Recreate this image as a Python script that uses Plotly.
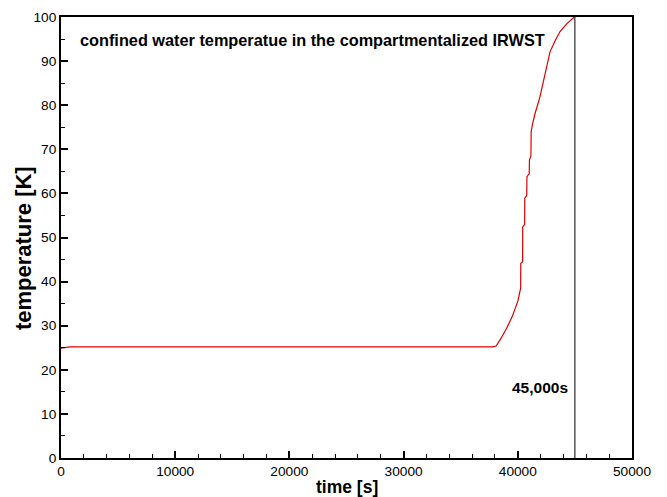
import plotly.graph_objects as go

# Confined water temperature history
time_s = [0, 800, 37800, 38100, 38500, 39000, 39500, 40000, 40250, 40260,
          40420, 40430, 40600, 40610, 40780, 40800, 41000, 41020, 41150, 41170,
          41300, 41500, 41940, 42400, 42820, 43300, 43700, 44300, 44950]
temperature = [24.9, 25.2, 25.2, 25.4, 27.0, 29.3, 32.0, 35.5, 38.5, 44.1,
               44.5, 52.4, 53.0, 58.9, 59.5, 63.8, 64.5, 67.6, 68.5, 74.0,
               75.9, 78.0, 81.9, 87.5, 92.1, 94.8, 96.7, 98.5, 100.0]

marker_time = 45000
marker_label = "45,000s"
title_text = "confined water temperatue in the compartmentalized IRWST"
x_title = "time [s]"
y_title = "temperature [K]"

font = "Liberation Sans, Arial, sans-serif"

fig = go.Figure()
fig.add_trace(go.Scatter(x=time_s, y=temperature, mode="lines",
                         line=dict(color="#dc0000", width=1.2),
                         showlegend=False))
fig.add_trace(go.Scatter(x=[marker_time, marker_time], y=[0, 100], mode="lines",
                         line=dict(color="black", width=1), showlegend=False))

fig.add_annotation(x=0.029, y=0.947, xref="paper", yref="paper",
                   text="<b>" + title_text + "</b>", showarrow=False,
                   xanchor="left", yanchor="middle",
                   font=dict(family=font, size=16.3, color="black"))
fig.add_annotation(x=marker_time, y=16.0, xref="x", yref="y",
                   text="<b>" + marker_label + "</b>", showarrow=False,
                   xanchor="right", xshift=-5, yanchor="middle",
                   font=dict(family=font, size=15.5, color="black"))
fig.add_annotation(x=-0.0665, y=0.476, xref="paper", yref="paper",
                   text="<b>" + y_title + "</b>", showarrow=False,
                   textangle=-90, xanchor="center", yanchor="middle",
                   font=dict(family=font, size=22, color="black"))
fig.add_annotation(x=0.5, y=-0.066, xref="paper", yref="paper",
                   text="<b>" + x_title + "</b>", showarrow=False,
                   xanchor="center", yanchor="middle",
                   font=dict(family=font, size=17.5, color="black"))

axis_common = dict(showgrid=False, zeroline=False, showline=True,
                   linecolor="black", linewidth=2, mirror=True,
                   ticks="inside", ticklen=7, tickwidth=1.5, tickcolor="black",
                   tickformat="d", automargin=False,
                   tickfont=dict(family=font, size=13.7, color="black"))

fig.update_xaxes(range=[0, 50000], dtick=10000, tick0=0,
                 minor=dict(ticks="inside", ticklen=4, tickwidth=1,
                            tickcolor="black", dtick=2000),
                 **axis_common)
fig.update_yaxes(range=[0, 100], dtick=10, tick0=0,
                 minor=dict(ticks="inside", ticklen=4, tickwidth=1,
                            tickcolor="black", dtick=5),
                 **axis_common)

fig.update_layout(width=667, height=497,
                  margin=dict(l=61, r=35, t=17, b=39),
                  plot_bgcolor="white", paper_bgcolor="white")

fig.write_html("out.html")
